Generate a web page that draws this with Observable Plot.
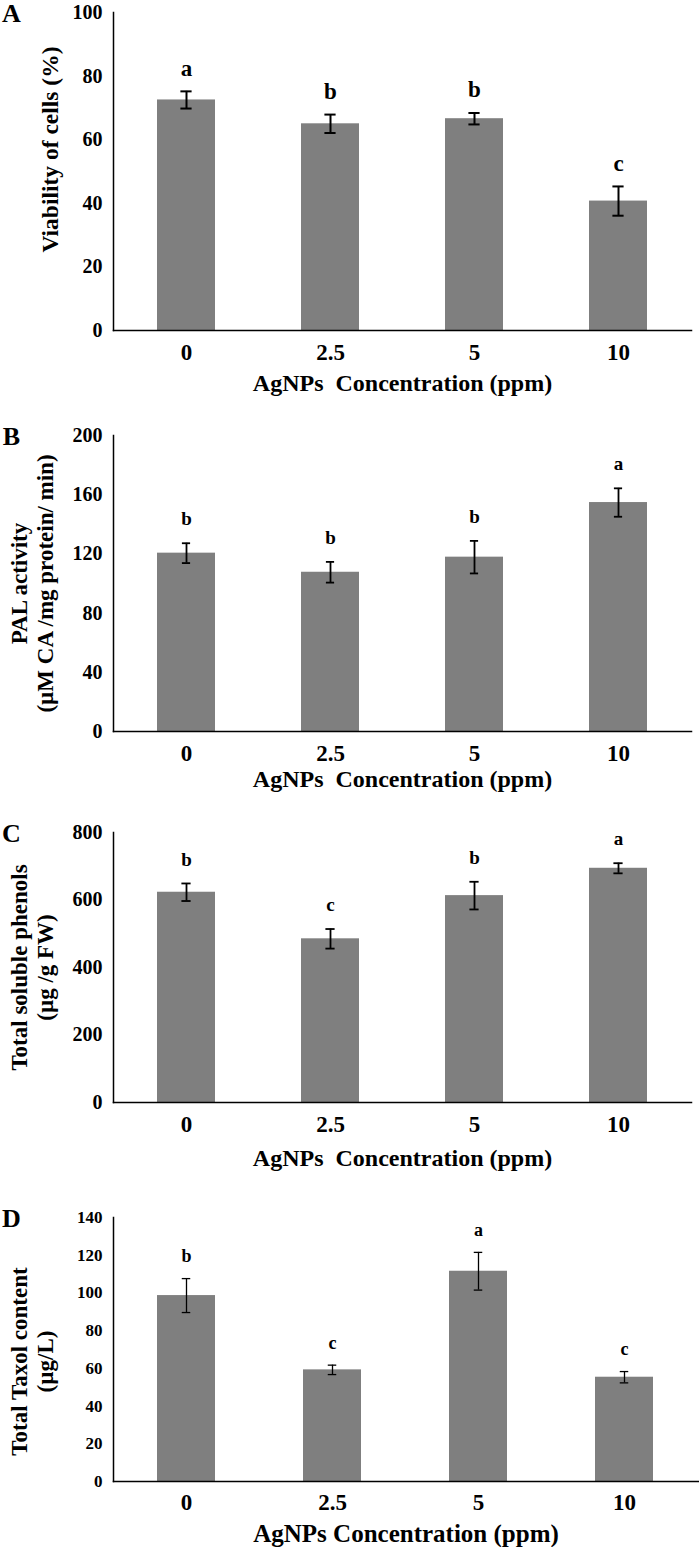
<!DOCTYPE html>
<html>
<head>
<meta charset="utf-8">
<script src="https://cdn.jsdelivr.net/npm/d3@7"></script>
<script src="https://cdn.jsdelivr.net/npm/@observablehq/plot@0.6"></script>
<style>
  html, body { margin: 0; padding: 0; background: #fff; }
  #wrap { width: 699px; }
  #wrap svg { display: block; }
</style>
</head>
<body>
<div id="wrap"></div>
<script>
// ---- data ----
const categories = ["0", "2.5", "5", "10"];

const viabilityMean = [72.5, 65.0, 66.6, 40.7];
const viabilitySD = [2.7, 2.9, 1.8, 4.6];
const viabilityLetters = ["a", "b", "b", "c"];
const viabilityTicks = [0, 20, 40, 60, 80, 100];

const palMean = [120.5, 107.6, 117.8, 154.7];
const palSD = [6.7, 7.0, 11.0, 9.6];
const palLetters = ["b", "b", "b", "a"];
const palTicks = [0, 40, 80, 120, 160, 200];

const phenolMean = [623, 485, 613, 694];
const phenolSD = [26, 29, 41, 15];
const phenolLetters = ["b", "c", "b", "a"];
const phenolTicks = [0, 200, 400, 600, 800];

const taxolMean = [98.6, 59.2, 111.5, 55.3];
const taxolSD = [9.0, 2.5, 10.0, 3.0];
const taxolLetters = ["b", "c", "a", "c"];
const taxolTicks = [0, 20, 40, 60, 80, 100, 120, 140];

const xTitleWide = "AgNPs\u00a0 Concentration (ppm)";
const xTitleNarrow = "AgNPs Concentration (ppm)";

function panel(o) {
  const W = 699, ML = 113;
  const rows = categories.map((c, i) => ({
    cat: c, mean: o.means[i], lo: o.means[i] - o.sds[i], hi: o.means[i] + o.sds[i], letter: o.letters[i]
  }));
  const step = (W - ML - o.mr) / 4;
  const bw = step * 0.4;
  const inset = (bw - o.capW) / 2;
  return Plot.plot({
    width: W,
    height: o.height,
    marginLeft: ML,
    marginRight: o.mr,
    marginTop: o.mt,
    marginBottom: o.mb,
    style: {
      fontFamily: "'Liberation Serif', 'Times New Roman', serif",
      fontWeight: "bold",
      background: "white",
      color: "black",
      overflow: "visible"
    },
    x: { domain: categories, paddingInner: 0.6, paddingOuter: 0.3 },
    y: { domain: [0, o.yMax] },
    marks: [
      Plot.barY(rows, { x: "cat", y: "mean", fill: "#7f7f7f" }),
      Plot.ruleX(rows, { x: "cat", y1: "lo", y2: "hi", stroke: "black", strokeWidth: o.errW }),
      Plot.tickY(rows, { x: "cat", y: "hi", stroke: "black", strokeWidth: o.errW, insetLeft: inset, insetRight: inset }),
      Plot.tickY(rows, { x: "cat", y: "lo", stroke: "black", strokeWidth: o.errW, insetLeft: inset, insetRight: inset }),
      Plot.text(rows, { x: "cat", y: "hi", text: "letter", dy: o.letterDy, fontSize: o.letterSize, lineAnchor: "middle", fill: "black" }),
      Plot.axisY({ ticks: o.ticks, tickSize: 0, tickPadding: 11, fontSize: o.yTickSize, label: null, tickFormat: d => String(d) }),
      Plot.axisX({ tickSize: 0, tickPadding: o.xTickPad, fontSize: o.xTickSize, label: null }),
      Plot.frame({ anchor: "left", stroke: "black", strokeWidth: 1.5 }),
      Plot.frame({ anchor: "bottom", stroke: "black", strokeWidth: 1.5 }),
      Plot.text([o.yTitle], { text: d => d, frameAnchor: "left", dx: o.yTitleX - ML, dy: o.yTitleDy, rotate: -90, fontSize: o.yTitleSize, lineAnchor: "middle", textAnchor: "middle", lineHeight: 1.15, fill: "black" }),
      Plot.text([o.xTitle], { text: d => d, frameAnchor: "bottom", dy: o.xTitleDy, fontSize: o.xTitleSize, lineAnchor: "middle", fill: "black" }),
      Plot.text([o.panelLetter], { text: d => d, frameAnchor: "top-left", dx: 11 - ML, dy: -9, fontSize: 26, lineAnchor: "top", textAnchor: "middle", fill: "black" })
    ]
  });
}

const wrap = document.getElementById("wrap");

wrap.appendChild(panel({
  means: viabilityMean, sds: viabilitySD, letters: viabilityLetters, ticks: viabilityTicks, yMax: 100,
  height: 395, mt: 12, mb: 65, mr: 8, capW: 11, errW: 2,
  letterDy: -23, letterSize: 23, yTickSize: 20, xTickSize: 23, xTickPad: 13,
  yTitle: "Viability of cells (%)", yTitleX: 49, yTitleDy: -22, yTitleSize: 23.5,
  xTitle: xTitleWide, xTitleDy: 53, xTitleSize: 24, panelLetter: "A"
}));

wrap.appendChild(panel({
  means: palMean, sds: palSD, letters: palLetters, ticks: palTicks, yMax: 200,
  height: 395, mt: 40, mb: 59, mr: 8, capW: 8, errW: 1.8,
  letterDy: -24, letterSize: 19, yTickSize: 20, xTickSize: 23, xTickPad: 13,
  yTitle: "PAL activity\n(\u00b5M CA /mg protein/ min)", yTitleX: 31, yTitleDy: 0, yTitleSize: 23,
  xTitle: xTitleWide, xTitleDy: 48, xTitleSize: 24, panelLetter: "B"
}));

wrap.appendChild(panel({
  means: phenolMean, sds: phenolSD, letters: phenolLetters, ticks: phenolTicks, yMax: 800,
  height: 385, mt: 42, mb: 73, mr: 8, capW: 9, errW: 1.8,
  letterDy: -24, letterSize: 19, yTickSize: 20, xTickSize: 23, xTickPad: 13,
  yTitle: "Total soluble phenols\n(\u00b5g /g FW)", yTitleX: 31, yTitleDy: 0, yTitleSize: 23,
  xTitle: xTitleWide, xTitleDy: 56, xTitleSize: 24, panelLetter: "C"
}));

wrap.appendChild(panel({
  means: taxolMean, sds: taxolSD, letters: taxolLetters, ticks: taxolTicks, yMax: 140,
  height: 372, mt: 42, mb: 66, mr: 1, capW: 9, errW: 1.3,
  letterDy: -22, letterSize: 18, yTickSize: 17, xTickSize: 23, xTickPad: 12,
  yTitle: "Total Taxol content\n(\u00b5g/L)", yTitleX: 31, yTitleDy: 12, yTitleSize: 23,
  xTitle: xTitleNarrow, xTitleDy: 52, xTitleSize: 25, panelLetter: "D"
}));
</script>
</body>
</html>
